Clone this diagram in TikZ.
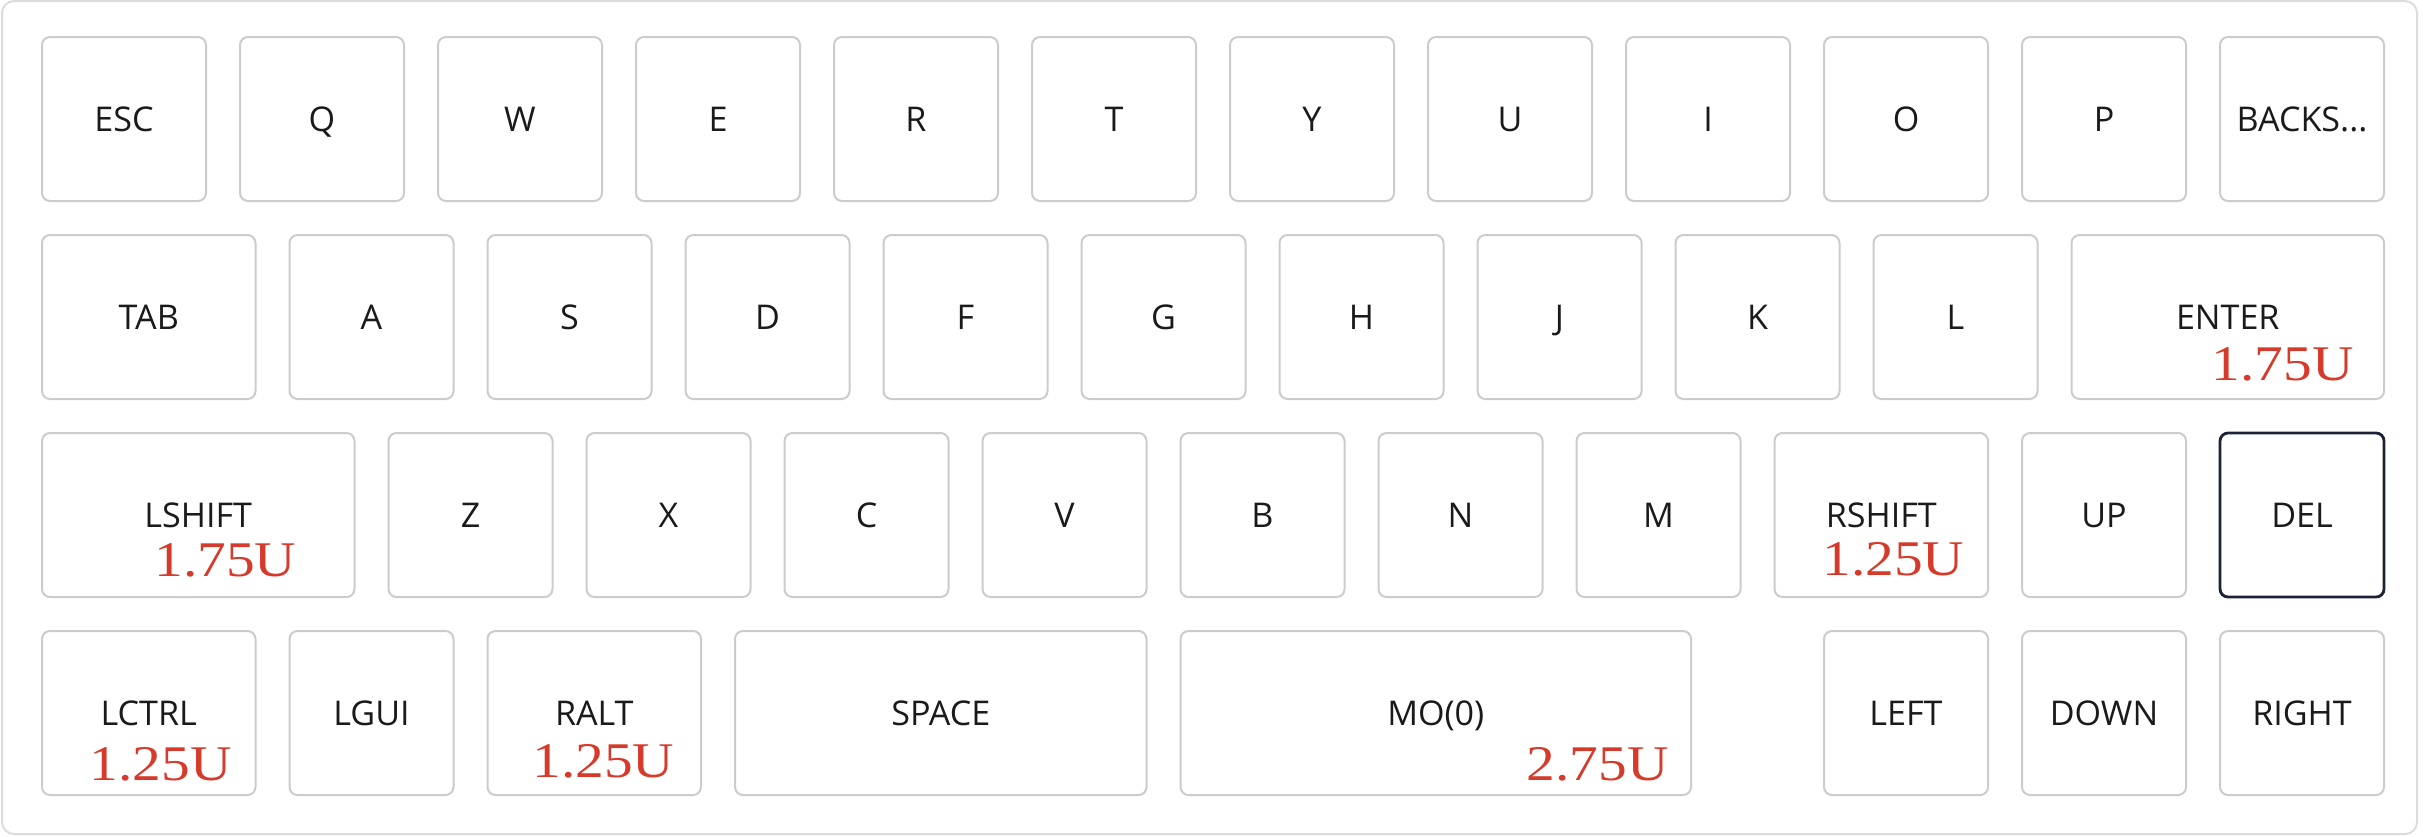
\documentclass[tikz,border=0pt]{standalone}
\usepackage{fontspec}
\usepackage{tikz}
\usetikzlibrary{positioning,calc}
\newfontfamily\keyfont{Open Sans}
\newfontfamily\sizefont[FakeStretch=1.15]{Liberation Serif}
\definecolor{keyline}{HTML}{CCCCCC}
\definecolor{frameline}{HTML}{DCDCDC}
\definecolor{delline}{HTML}{1B2236}
\definecolor{sizered}{HTML}{D63A2B}
\definecolor{keytext}{HTML}{1A1A1A}

\tikzset{
	key/.style={draw=keyline, line width=0.02cm, rounded corners=0.08cm, fill=white,
		minimum width=1.64cm, minimum height=1.64cm, inner sep=0pt, outer sep=0pt,
		text height=0.243cm, text depth=0pt,
		font=\keyfont\fontsize{9.7}{11}\selectfont, text=keytext},
	keyw/.style={minimum width=1.98cm*#1-0.34cm},
	ulabel/.style={font=\sizefont\fontsize{14.2}{16}\selectfont, text=sizered, inner sep=0pt, anchor=base},
}

\begin{document}
\begin{tikzpicture}

\useasboundingbox (0,0) rectangle (24.23,-8.36);

% case
\draw[frameline, line width=0.02cm, rounded corners=0.12cm, fill=white] (0.02,-0.01) rectangle (24.17,-8.34);

% row 1
\node[key] (esc) at (1.24,-1.19) {ESC};
\foreach \lbl [count=\i] in {Q,W,E,R,T,Y,U,I,O,P}{
	\node[key] (key-\lbl) at ({1.24+1.98*\i},-1.19) {\lbl};
}
\node[key] (bksp) at (23.02,-1.19) {BACKS...};

% row 2
\node[key, keyw=1.25] (tab) at (1.4875,-3.17) {TAB};
\foreach \lbl [count=\i from 0] in {A,S,D,F,G,H,J,K,L}{
	\node[key] (key-\lbl) at ({3.715+1.98*\i},-3.17) {\lbl};
}
\node[key, keyw=1.75] (enter) at (22.2775,-3.17) {ENTER};

% row 3
\node[key, keyw=1.75] (lshift) at (1.9825,-5.15) {LSHIFT};
\foreach \lbl [count=\i from 0] in {Z,X,C,V,B,N,M}{
	\node[key] (key-\lbl) at ({4.705+1.98*\i},-5.15) {\lbl};
}
\node[key, keyw=1.25] (rshift) at (18.8125,-5.15) {RSHIFT};
\node[key] (up) at (21.04,-5.15) {UP};
\node[key, draw=delline, line width=0.028cm] (del) at (23.02,-5.15) {DEL};

% row 4
\node[key, keyw=1.25] (lctrl) at (1.4875,-7.13) {LCTRL};
\node[key] (lgui) at (3.715,-7.13) {LGUI};
\node[key, keyw=1.25] (ralt) at (5.9425,-7.13) {RALT};
\node[key, keyw=2.25] (space) at (9.4075,-7.13) {SPACE};
\node[key, keyw=2.75] (mo) at (14.3575,-7.13) {MO(0)};
\node[key] (left) at (19.06,-7.13) {LEFT};
\node[key] (down) at (21.04,-7.13) {DOWN};
\node[key] (right) at (23.02,-7.13) {RIGHT};

% key sizes
\node[ulabel] (enter-u) at ([xshift=0.55cm, yshift=-0.63cm]enter.center) {1.75U};
\node[ulabel] (lshift-u) at ([xshift=0.27cm, yshift=-0.61cm]lshift.center) {1.75U};
\node[ulabel] (rshift-u) at ([xshift=0.12cm, yshift=-0.60cm]rshift.center) {1.25U};
\node[ulabel] (lctrl-u) at ([xshift=0.12cm, yshift=-0.67cm]lctrl.center) {1.25U};
\node[ulabel] (ralt-u) at ([xshift=0.09cm, yshift=-0.64cm]ralt.center) {1.25U};
\node[ulabel] (mo-u) at ([xshift=1.62cm, yshift=-0.67cm]mo.center) {2.75U};

\end{tikzpicture}
\end{document}
